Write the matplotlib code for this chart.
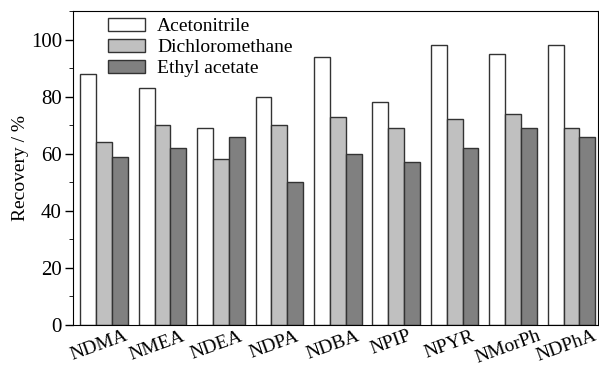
import numpy as np
import matplotlib.pyplot as plt
from matplotlib.transforms import ScaledTranslation

compounds = ['NDMA', 'NMEA', 'NDEA', 'NDPA', 'NDBA', 'NPIP', 'NPYR', 'NMorPh', 'NDPhA']
acetonitrile = [88, 83, 69, 80, 94, 78, 98, 95, 98]
dichloromethane = [64, 70, 58, 70, 73, 69, 72, 74, 69]
ethyl_acetate = [59, 62, 66, 50, 60, 57, 62, 69, 66]

plt.rcParams['font.family'] = ['Liberation Serif', 'DejaVu Serif']
plt.rcParams['font.size'] = 14

fig = plt.figure(figsize=(5.99, 3.68), dpi=100)
ax = fig.add_axes([0.122, 0.117, 0.876, 0.853])

x = np.arange(len(compounds))
w = 0.272
ec = '#333333'
ax.bar(x - w, acetonitrile, w, color='white', edgecolor=ec, lw=1, label='Acetonitrile')
ax.bar(x, dichloromethane, w, color='#c0c0c0', edgecolor=ec, lw=1, label='Dichloromethane')
ax.bar(x + w, ethyl_acetate, w, color='#808080', edgecolor=ec, lw=1, label='Ethyl acetate')

ax.set_xlim(-0.53, 8.45)
ax.set_ylim(0, 110)
ax.set_yticks([0, 20, 40, 60, 80, 100])
ax.set_yticks(np.arange(0, 111, 10), minor=True)
ax.tick_params(axis='y', direction='out', length=6, width=1, labelsize=15, pad=2)
ax.tick_params(axis='y', which='minor', direction='out', length=3)
ax.set_xticks(x)
ax.set_xticklabels(compounds, rotation=20, ha='center', fontsize=14)
ax.tick_params(axis='x', length=0, pad=2)
shift = ScaledTranslation(-5 / 100, 0, fig.dpi_scale_trans)
for lbl in ax.get_xticklabels():
    lbl.set_transform(lbl.get_transform() + shift)
ax.set_ylabel('Recovery / %', fontsize=14, labelpad=1)

ax.legend(loc='upper left', bbox_to_anchor=(0.045, 1.015), frameon=False,
          handlelength=1.9, handleheight=0.62, labelspacing=0.2, fontsize=14,
          handletextpad=0.6, borderaxespad=0.2)

plt.savefig('out.png', dpi=100)
